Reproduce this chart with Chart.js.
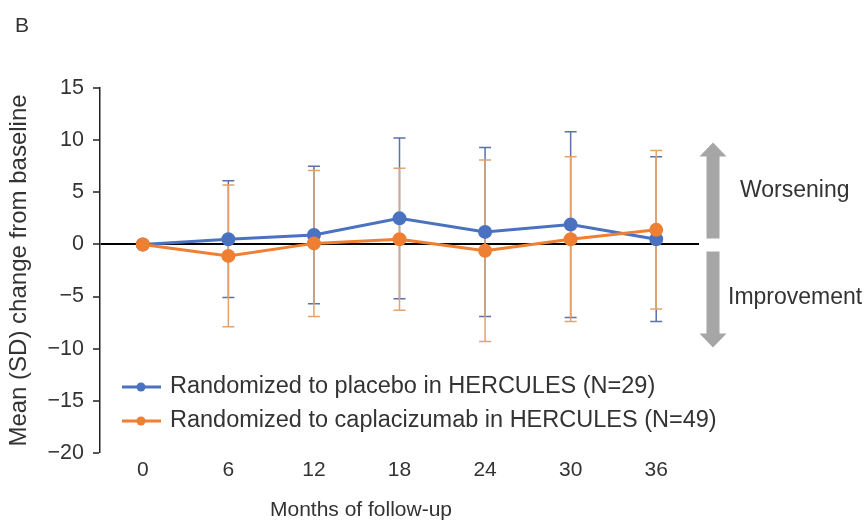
<!DOCTYPE html>
<html>
<head>
<meta charset="utf-8">
<script src="https://cdn.jsdelivr.net/npm/chart.js@4.4.0/dist/chart.umd.min.js"></script>
<style>
    html, body { margin: 0; padding: 0; background: #fff; }
    #chartContainer { width: 867px; height: 522px; position: relative; }
</style>
</head>
<body>
<div id="chartContainer"><canvas id="myChart"></canvas></div>
<script>
// dane
const months = ['0', '6', '12', '18', '24', '30', '36'];
const placeboMean = [0, 0.5, 0.9, 2.5, 1.2, 1.9, 0.5];
const placeboSD = [0, 5.6, 6.6, 7.7, 8.1, 8.9, 7.9];
const caplaMean = [0, -1.1, 0.1, 0.5, -0.6, 0.5, 1.4];
const caplaSD = [0, 6.8, 7.0, 6.8, 8.7, 7.9, 7.6];
const seriesLabels = [
    'Randomized to placebo in HERCULES (N=29)',
    'Randomized to caplacizumab in HERCULES (N=49)'
];
const xTitle = 'Months of follow-up';

const BLUE = '#4a72c0';
const ORANGE = '#ee7f33';
const GREY = '#a6a6a6';
const FONT = "'Liberation Sans', Arial, sans-serif";

Chart.defaults.font.family = FONT;
Chart.defaults.font.size = 21;
Chart.defaults.color = '#333';

// słupki błędów (średnia ± SD), rysowane pod liniami
const errorBars = {
    id: 'errorBars',
    beforeDatasetsDraw(chart) {
        const ctx = chart.ctx;
        const y = chart.scales.y;
        chart.data.datasets.forEach((ds, i) => {
            const meta = chart.getDatasetMeta(i);
            meta.data.forEach((pt, j) => {
                const sd = ds.sd[j];
                if (!sd) return;
                const top = y.getPixelForValue(ds.data[j] + sd);
                const bot = y.getPixelForValue(ds.data[j] - sd);
                ctx.save();
                ctx.strokeStyle = ds.errColor;
                ctx.lineWidth = 1.5;
                ctx.beginPath();
                ctx.moveTo(pt.x, top); ctx.lineTo(pt.x, bot);
                ctx.moveTo(pt.x - 6, top); ctx.lineTo(pt.x + 6, top);
                ctx.moveTo(pt.x - 6, bot); ctx.lineTo(pt.x + 6, bot);
                ctx.stroke();
                ctx.restore();
            });
        });
    }
};

// strzałki, opisy, litera B, tytuł osi X i legenda wewnątrz wykresu
const extras = {
    id: 'extras',
    afterDraw(chart) {
        const ctx = chart.ctx;
        const y = chart.scales.y;
        const area = chart.chartArea;
        const y0 = y.getPixelForValue(0);
        const ax = area.right + 14;

        ctx.save();
        ctx.fillStyle = GREY;
        // strzałka w górę
        ctx.beginPath();
        ctx.moveTo(ax, y0 - 102);
        ctx.lineTo(ax + 13.5, y0 - 88);
        ctx.lineTo(ax + 6.5, y0 - 88);
        ctx.lineTo(ax + 6.5, y0 - 6);
        ctx.lineTo(ax - 6.5, y0 - 6);
        ctx.lineTo(ax - 6.5, y0 - 88);
        ctx.lineTo(ax - 13.5, y0 - 88);
        ctx.closePath();
        ctx.fill();
        // strzałka w dół
        ctx.beginPath();
        ctx.moveTo(ax, y0 + 103);
        ctx.lineTo(ax + 13.5, y0 + 89);
        ctx.lineTo(ax + 6.5, y0 + 89);
        ctx.lineTo(ax + 6.5, y0 + 7);
        ctx.lineTo(ax - 6.5, y0 + 7);
        ctx.lineTo(ax - 6.5, y0 + 89);
        ctx.lineTo(ax - 13.5, y0 + 89);
        ctx.closePath();
        ctx.fill();

        ctx.fillStyle = '#333';
        ctx.font = '23px ' + FONT;
        ctx.textBaseline = 'middle';
        ctx.textAlign = 'left';
        ctx.fillText('Worsening', 740, y0 - 54);
        ctx.fillText('Improvement', 728, y0 + 53);
        ctx.font = '21px ' + FONT;
        ctx.fillText('B', 15, 26);

        // tytuł osi X (w oryginale przesunięty w lewo)
        ctx.textAlign = 'center';
        ctx.fillText(xTitle, 361, 510);
        ctx.textAlign = 'left';

        // legenda
        ctx.font = '23.5px ' + FONT;
        chart.data.datasets.forEach((ds, i) => {
            const ly = 387 + i * 34;
            ctx.strokeStyle = ds.borderColor;
            ctx.lineWidth = 3;
            ctx.beginPath();
            ctx.moveTo(122, ly); ctx.lineTo(161, ly);
            ctx.stroke();
            ctx.fillStyle = ds.borderColor;
            ctx.beginPath();
            ctx.arc(141, ly, 4.5, 0, Math.PI * 2);
            ctx.fill();
            ctx.fillStyle = '#333';
            ctx.fillText(ds.label, 170, ly);
        });
        ctx.restore();
    }
};

const ctx = document.getElementById('myChart').getContext('2d');

const data = {
    labels: months,
    datasets: [{
        label: seriesLabels[0],
        data: placeboMean,
        sd: placeboSD,
        errColor: '#5b72a8',
        borderColor: BLUE,
        backgroundColor: BLUE,
        borderWidth: 3,
        pointRadius: 5.5,
        pointHoverRadius: 5.5,
        order: 1
    }, {
        label: seriesLabels[1],
        data: caplaMean,
        sd: caplaSD,
        errColor: '#e1a46f',
        borderColor: ORANGE,
        backgroundColor: ORANGE,
        borderWidth: 3,
        pointRadius: 5.5,
        pointHoverRadius: 5.5,
        order: 0
    }]
};

const options = {
    responsive: true,
    maintainAspectRatio: false,
    animation: false,
    layout: { padding: { top: 88, right: 168, left: 5, bottom: 0 } },
    plugins: {
        legend: { display: false },
        tooltip: { enabled: false }
    },
    scales: {
        x: {
            offset: true,
            grid: { display: false, drawTicks: false },
            border: { display: false },
            ticks: { padding: 5 },
            title: { display: false },
            afterFit(scale) { scale.height = 69; }
        },
        y: {
            min: -20,
            max: 15,
            ticks: {
                stepSize: 5,
                padding: 9,
                font: { size: 21.5 },
                callback: v => String(v).replace('-', '\u2212')
            },
            grid: {
                color: c => c.tick && c.tick.value === 0 ? '#000' : 'rgba(0,0,0,0)',
                lineWidth: c => c.tick && c.tick.value === 0 ? 2 : 0,
                tickColor: '#222',
                tickWidth: 1.5,
                tickLength: 7
            },
            border: { display: true, color: '#222', width: 1.5 },
            title: {
                display: true,
                text: 'Mean (SD) change from baseline',
                font: { size: 24 },
                padding: { top: 0, bottom: 2 }
            },
            afterFit(scale) { scale.width = 95; }
        }
    }
};

const myChart = new Chart(ctx, {
    type: 'line',
    data: data,
    options: options,
    plugins: [errorBars, extras]
});
</script>
</body>
</html>
